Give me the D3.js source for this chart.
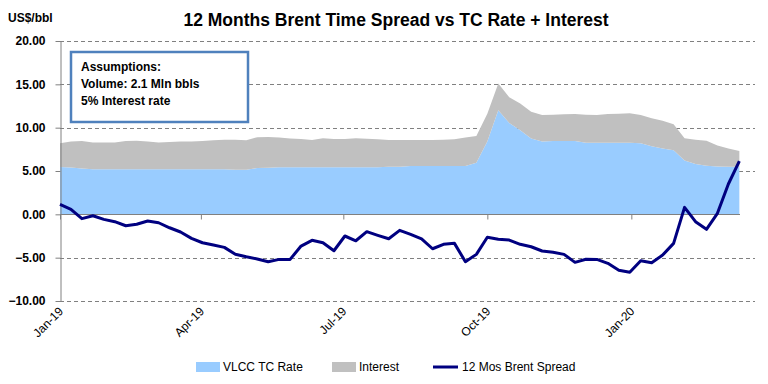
<!DOCTYPE html>
<html>
<head>
<meta charset="utf-8">
<script src="https://cdn.jsdelivr.net/npm/d3@7"></script>
<style>
  body { margin: 0; background: #fff; }
  svg { display: block; font-family: "Liberation Sans", Arial, sans-serif; }
</style>
</head>
<body>
<svg id="chart" width="768" height="384"></svg>
<script>
// weekly dates
var dates = [
  "2019-01-01","2019-01-08","2019-01-15","2019-01-22","2019-01-29",
  "2019-02-05","2019-02-12","2019-02-19","2019-02-26",
  "2019-03-05","2019-03-12","2019-03-19","2019-03-26",
  "2019-04-02","2019-04-09","2019-04-16","2019-04-23","2019-04-30",
  "2019-05-07","2019-05-14","2019-05-21","2019-05-28",
  "2019-06-04","2019-06-11","2019-06-18","2019-06-25",
  "2019-07-02","2019-07-09","2019-07-16","2019-07-23","2019-07-30",
  "2019-08-06","2019-08-13","2019-08-20","2019-08-27",
  "2019-09-03","2019-09-10","2019-09-17","2019-09-24",
  "2019-10-01","2019-10-08","2019-10-15","2019-10-22","2019-10-29",
  "2019-11-05","2019-11-12","2019-11-19","2019-11-26",
  "2019-12-03","2019-12-10","2019-12-17","2019-12-24","2019-12-31",
  "2020-01-07","2020-01-14","2020-01-21","2020-01-28",
  "2020-02-04","2020-02-11","2020-02-18","2020-02-25",
  "2020-03-03","2020-03-10"
];
var vlcc = [
  5.45,5.40,5.30,5.20,5.20, 5.20,5.20,5.20,5.20, 5.20,5.20,5.20,5.20,
  5.20,5.20,5.20,5.15,5.15, 5.35,5.38,5.42,5.42, 5.42,5.42,5.42,5.42,
  5.42,5.42,5.42,5.42,5.50, 5.50,5.57,5.57,5.57, 5.57,5.57,5.57,5.95,
  8.40,12.00,10.55,9.70,8.75, 8.40,8.45,8.45,8.45, 8.26,8.26,8.26,8.26,8.26,
  8.20,7.85,7.60,7.40, 6.20,5.80,5.60,5.52, 5.50,5.50
];
var interest = [
  2.75,3.00,3.15,3.10,3.10, 3.10,3.25,3.30,3.20, 3.10,3.15,3.20,3.20,
  3.25,3.35,3.40,3.45,3.40, 3.55,3.55,3.45,3.33, 3.27,3.15,3.35,3.27,
  3.28,3.35,3.30,3.23,3.07, 3.07,3.00,3.00,3.00, 3.05,3.08,3.30,3.08,
  3.20,3.10,2.95,3.10,3.09, 3.06,3.05,3.10,3.12, 3.24,3.20,3.31,3.34,3.39,
  3.26,3.25,3.20,3.00, 2.57,2.80,2.89,2.43, 2.10,1.80
];
var spread = [
  1.15,0.58,-0.50,-0.16,-0.58, -0.85,-1.32,-1.15,-0.77, -0.97,-1.55,-2.04,-2.77,
  -3.28,-3.54,-3.81,-4.60,-4.90, -5.15,-5.47,-5.20,-5.20, -3.66,-3.00,-3.28,-4.20,
  -2.50,-3.05,-2.00,-2.42,-2.82, -1.85,-2.31,-2.82,-3.97, -3.46,-3.35,-5.47,-4.62,
  -2.65,-2.88,-2.97,-3.46,-3.74, -4.23,-4.38,-4.62,-5.54, -5.19,-5.20,-5.65,-6.46,-6.69,
  -5.35,-5.58,-4.70,-3.35, 0.81,-0.85,-1.73,0.12, 3.50,6.15
];
var yTicks = [-10, -5, 0, 5, 10, 15, 20];
var xTicks = ["2019-01-01","2019-04-01","2019-07-01","2019-10-01","2020-01-01"];
var legendNames = ["VLCC TC Rate", "Interest", "12 Mos Brent Spread"];
var noteLines = ["Assumptions:", "Volume: 2.1 Mln bbls", "5% Interest rate"];

var parse = d3.timeParse("%Y-%m-%d");
var fmtX = d3.timeFormat("%b-%y");

var data = dates.map(function(d, i) {
  return {date: parse(d), vlcc: vlcc[i], interest: interest[i], spread: spread[i]};
});

var svg = d3.select("#chart");
var plotLeft = 60, plotRight = 755, plotTop = 41, plotBottom = 301;

var x = d3.scaleTime()
  .domain([parse("2019-01-01"), parse("2020-03-20")])
  .range([plotLeft, plotRight]);
var y = d3.scaleLinear().domain([-10, 20]).range([plotBottom, plotTop]);

// gridlines (behind areas)
svg.append("g").selectAll("line")
  .data(yTicks.filter(function(t){ return t != 0; }))
  .enter().append("line")
  .attr("x1", plotLeft).attr("x2", plotRight)
  .attr("y1", function(d){ return Math.round(y(d)) + 0.5; })
  .attr("y2", function(d){ return Math.round(y(d)) + 0.5; })
  .attr("stroke", "#808080").attr("stroke-width", 1)
  .attr("stroke-dasharray", "4,3");

// stacked areas
var stack = d3.stack().keys(["vlcc", "interest"]);
var series = stack(data);
var areaColours = ["#99ccff", "#c0c0c0"];
var area = d3.area()
  .x(function(d){ return x(d.data.date); })
  .y0(function(d){ return y(d[0]); })
  .y1(function(d){ return y(d[1]); });
svg.append("g").selectAll("path")
  .data(series)
  .enter().append("path")
  .attr("d", area)
  .attr("fill", function(d, i){ return areaColours[i]; });

// y axis
var yAxis = svg.append("g")
  .attr("transform", "translate(" + (plotLeft + 0.5) + ",0)")
  .call(d3.axisLeft(y).tickValues(yTicks).tickSize(5).tickPadding(10)
        .tickSizeOuter(0).tickFormat(d3.format(".2f")));
yAxis.select(".domain").attr("stroke", "#808080");
yAxis.selectAll(".tick line").attr("stroke", "#808080");
yAxis.selectAll("text")
  .attr("font-size", 12).attr("font-weight", "bold").attr("fill", "#000")
  .attr("font-family", "Liberation Sans, Arial, sans-serif");

// x axis at zero
var xAxis = svg.append("g")
  .attr("transform", "translate(0," + (Math.round(y(0)) + 0.5) + ")")
  .call(d3.axisBottom(x).tickValues(xTicks.map(parse)).tickSize(5)
        .tickSizeOuter(0).tickFormat(""));
xAxis.select(".domain").attr("stroke", "#808080").attr("d", "M" + plotLeft + ",0H740");
xAxis.selectAll(".tick line").attr("stroke", "#808080");

// x labels, low position
svg.append("g").selectAll("text")
  .data(xTicks)
  .enter().append("text")
  .attr("transform", function(d){
    return "translate(" + (x(parse(d)) + 4) + "," + 312 + ") rotate(-45)";
  })
  .attr("text-anchor", "end")
  .attr("font-size", 12)
  .attr("font-family", "Liberation Sans, Arial, sans-serif")
  .text(function(d){ return fmtX(parse(d)); });

// spread line
var line = d3.line()
  .x(function(d){ return x(d.date); })
  .y(function(d){ return y(d.spread); });
svg.append("path")
  .datum(data)
  .attr("d", line)
  .attr("fill", "none")
  .attr("stroke", "#000080")
  .attr("stroke-width", 3)
  .attr("stroke-linejoin", "round");

// title
svg.append("text")
  .attr("x", 396).attr("y", 26)
  .attr("text-anchor", "middle")
  .attr("font-size", 17.5).attr("font-weight", "bold")
  .text("12 Months Brent Time Spread vs TC Rate + Interest");

svg.append("text")
  .attr("x", 8).attr("y", 22)
  .attr("font-size", 12).attr("font-weight", "bold")
  .text("US$/bbl");

// assumptions box
svg.append("rect")
  .attr("x", 71).attr("y", 52).attr("width", 177).attr("height", 70)
  .attr("fill", "#fff").attr("stroke", "#4f81bd").attr("stroke-width", 2.5);
svg.append("g").selectAll("text")
  .data(noteLines)
  .enter().append("text")
  .attr("x", 81)
  .attr("y", function(d, i){ return 71 + i * 17; })
  .attr("font-size", 12)
  .attr("font-weight", "bold")
  .text(function(d){ return d; });

// legend
var legendX = [196, 332, 433];
var leg = svg.append("g");
leg.append("rect").attr("x", legendX[0]).attr("y", 362).attr("width", 24).attr("height", 10).attr("fill", areaColours[0]);
leg.append("rect").attr("x", legendX[1]).attr("y", 362).attr("width", 24).attr("height", 10).attr("fill", areaColours[1]);
leg.append("line").attr("x1", legendX[2]).attr("x2", legendX[2] + 25).attr("y1", 367).attr("y2", 367)
  .attr("stroke", "#000080").attr("stroke-width", 3);
leg.selectAll("text")
  .data(legendNames)
  .enter().append("text")
  .attr("x", function(d, i){ return legendX[i] + (i == 2 ? 29 : 27); })
  .attr("y", 371)
  .attr("font-size", 12)
  .text(function(d){ return d; });
</script>
</body>
</html>
